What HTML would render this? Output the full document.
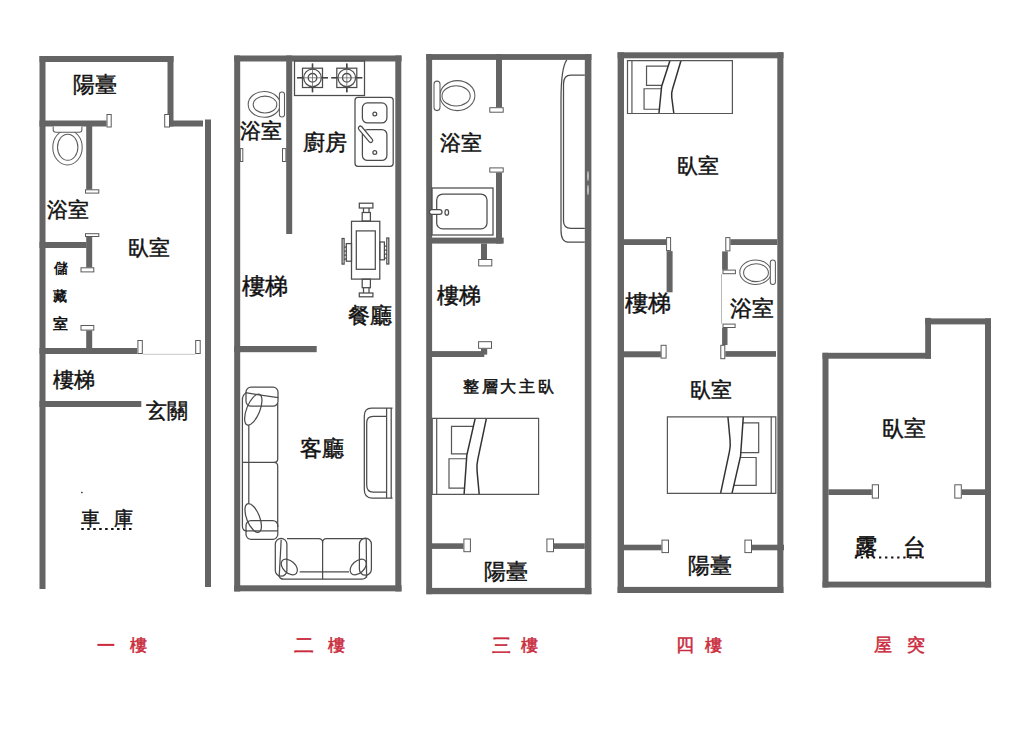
<!DOCTYPE html>
<html><head><meta charset="utf-8">
<style>
html,body{margin:0;padding:0;background:#fff;width:1036px;height:747px;overflow:hidden}
svg{position:absolute;left:0;top:0;display:block}
text{font-family:"Liberation Sans",sans-serif}
.w{fill:#646464}
.d{fill:#fff;stroke:#5a5a5a;stroke-width:1}
.ln{fill:none;stroke:#4c4c4c;stroke-width:1.25}
.tl{fill:none;stroke:#5c5c5c;stroke-width:1.05}
.ln2{fill:none;stroke:#666;stroke-width:0.8}
.ln3{fill:none;stroke:#444;stroke-width:1.6}
.bedg rect,.bedg path{fill:none;stroke:#555;stroke-width:1.2}
.bedg .fold{stroke:#333;stroke-width:1.5;fill:none}
</style></head><body>
<svg width="1036" height="747" viewBox="0 0 1036 747">
<rect class="w" x="39.50" y="56.00" width="134.00" height="6.00"/>
<rect class="w" x="39.50" y="56.00" width="6.00" height="533.00"/>
<rect class="w" x="167.50" y="56.00" width="6.00" height="70.50"/>
<rect class="w" x="167.50" y="120.50" width="35.50" height="6.00"/>
<rect class="w" x="205.00" y="119.50" width="6.00" height="467.50"/>
<rect class="w" x="39.50" y="120.50" width="67.00" height="6.00"/>
<rect class="d" x="107.00" y="114.50" width="4.20" height="12.50"/>
<rect class="d" x="164.70" y="114.50" width="4.80" height="12.50"/>
<rect class="w" x="86.20" y="126.00" width="6.00" height="63.50"/>
<rect class="d" x="85.50" y="189.80" width="13.30" height="3.30"/>
<rect class="w" x="39.50" y="242.00" width="47.00" height="6.00"/>
<rect class="w" x="86.20" y="236.80" width="6.00" height="30.70"/>
<rect class="d" x="85.50" y="233.70" width="13.30" height="2.80"/>
<rect class="d" x="81.00" y="267.80" width="12.80" height="4.10"/>
<rect class="d" x="81.00" y="325.50" width="12.80" height="4.60"/>
<rect class="w" x="86.20" y="330.50" width="6.00" height="18.00"/>
<rect class="w" x="39.50" y="348.00" width="97.50" height="6.00"/>
<rect class="d" x="137.90" y="340.50" width="4.40" height="13.00"/>
<rect class="d" x="195.70" y="340.50" width="4.50" height="13.00"/>
<line x1="142.8" y1="354.3" x2="195.2" y2="354.3" stroke="#c8c8c8" stroke-width="1"/>
<rect class="w" x="39.50" y="401.00" width="101.80" height="6.00"/>
<ellipse class="tl" cx="67.5" cy="147.4" rx="14.7" ry="17.5"/>
<ellipse class="tl" cx="67.7" cy="147.25" rx="10.2" ry="13.05"/>
<path class="tl" style="fill:#fff" d="M53.2,126.5 V129.8 Q53.2,132.3 56,132.3 H79.2 Q81.9,132.3 81.9,129.8 V126.5"/>
<text x="73.07" y="91.73" font-size="22.29" font-weight="400" fill="#111" stroke="#111" stroke-width="0.45">陽臺</text>
<text x="46.90" y="216.76" font-size="21.27" font-weight="400" fill="#111" stroke="#111" stroke-width="0.45">浴室</text>
<text x="127.57" y="255.30" font-size="21.12" font-weight="400" fill="#111" stroke="#111" stroke-width="0.45">臥室</text>
<text x="53.55" y="273.44" font-size="13.64" font-weight="700" fill="#111">儲</text>
<text x="53.40" y="301.20" font-size="13.81" font-weight="700" fill="#111">藏</text>
<text x="52.67" y="328.65" font-size="15.26" font-weight="700" fill="#111">室</text>
<text x="52.78" y="386.70" font-size="21.45" font-weight="400" fill="#111" stroke="#111" stroke-width="0.45">樓梯</text>
<text x="146.02" y="417.84" font-size="20.69" font-weight="400" fill="#111" stroke="#111" stroke-width="0.45">玄關</text>
<text x="81.21" y="524.98" font-size="19.36" font-weight="400" fill="#111" stroke="#111" stroke-width="0.45">車</text>
<text x="113.51" y="525.20" font-size="19.18" font-weight="400" fill="#111" stroke="#111" stroke-width="0.45">庫</text>
<line x1="81.3" y1="529" x2="133" y2="529" stroke="#111" stroke-width="2" stroke-dasharray="2.5 3.46"/>
<rect x="81.2" y="491.8" width="1.4" height="1.4" fill="#222"/>
<rect class="w" x="234.20" y="55.50" width="167.40" height="6.00"/>
<rect class="w" x="234.20" y="55.50" width="6.00" height="536.00"/>
<rect class="w" x="395.30" y="55.50" width="6.00" height="536.00"/>
<rect class="w" x="234.20" y="585.30" width="167.40" height="6.00"/>
<rect class="w" x="286.20" y="55.50" width="6.00" height="178.50"/>
<rect class="d" x="240.30" y="148.60" width="2.50" height="12.90"/>
<rect class="d" x="282.50" y="148.60" width="3.40" height="12.90"/>
<rect class="w" x="234.20" y="346.00" width="82.50" height="6.20"/>
<ellipse class="tl" cx="264.2" cy="104.4" rx="16" ry="12.9"/>
<ellipse class="tl" cx="265" cy="104.55" rx="11.85" ry="8.45"/>
<rect class="tl" style="fill:#fff" x="279.4" y="92" width="5.1" height="24.9" rx="2.5"/>
<rect class="ln" x="294.5" y="61" width="70" height="34.5"/>
<rect class="ln" x="302.5" y="68.2" width="20" height="19.3"/>
<circle class="ln" cx="312.5" cy="77.8" r="8.8"/>
<circle class="ln" cx="312.5" cy="77.8" r="4.3" style="stroke-width:1.35"/>
<path class="ln2" d="M297.0,77.8 H328.0 M312.5,63.5 V92.3"/>
<path class="ln3" d="M297.0,77.8 H303.5 M321.5,77.8 H328.0 M312.5,63.5 V68.5 M312.5,87 V92.3"/>
<rect class="ln" x="336.8" y="68.2" width="20" height="19.3"/>
<circle class="ln" cx="346.8" cy="77.8" r="8.8"/>
<circle class="ln" cx="346.8" cy="77.8" r="4.3" style="stroke-width:1.35"/>
<path class="ln2" d="M331.3,77.8 H362.3 M346.8,63.5 V92.3"/>
<path class="ln3" d="M331.3,77.8 H337.8 M355.8,77.8 H362.3 M346.8,63.5 V68.5 M346.8,87 V92.3"/>
<rect class="ln" x="355" y="97.3" width="38.2" height="69" rx="3"/>
<rect class="ln" x="362.4" y="102.9" width="24.5" height="20" rx="5"/>
<rect class="ln" x="362.4" y="129.6" width="24.5" height="30.8" rx="5"/>
<circle class="ln" cx="374.8" cy="113.9" r="1.9"/>
<circle class="ln" cx="374.8" cy="152.4" r="1.9"/>
<path class="ln" style="fill:#fff" d="M358.8,129.3 A2,2 0 0 1 361.6,126.5 L372.3,139.3 A2,2 0 0 1 369.5,142.1 Z"/>
<rect class="ln" x="351.5" y="221.3" width="28.3" height="57.8"/>
<rect class="ln" x="356.3" y="230.9" width="19" height="38.4"/>
<rect class="ln" x="359.3" y="203.2" width="13.6" height="4.8" fill="#fff"/>
<rect class="ln" x="362.2" y="212.5" width="8.2" height="8.5"/>
<path class="ln" d="M363.5,208 V212.5 M369,208 V212.5"/>
<rect class="ln" x="362.2" y="279.2" width="8.2" height="8.5"/>
<rect class="ln" x="359.3" y="293" width="13.6" height="3.8" fill="#fff"/>
<path class="ln" d="M363.5,287.7 V293 M369,287.7 V293"/>
<rect class="ln" x="346.3" y="243.6" width="5.2" height="17.6"/>
<rect class="ln" x="342.1" y="238.5" width="2" height="25.6"/>
<path class="ln" d="M344.1,247 H346.3 M344.1,251 H346.3 M344.1,255 H346.3 M344.1,259 H346.3"/>
<rect class="ln" x="379.8" y="242" width="4.6" height="17.8"/>
<rect class="ln" x="386.8" y="238" width="2" height="26"/>
<path class="ln" d="M384.4,246 H386.8 M384.4,250 H386.8 M384.4,254 H386.8 M384.4,258 H386.8"/>
<path class="ln" d="M392.5,408 H371.5 Q364.3,408 364.3,416 V489.5 Q364.3,498 372,498 H392.5"/>
<path class="ln" d="M386.6,416.3 H373 Q366.7,416.3 366.7,423 V485 Q366.7,492 373,492 H386.6"/>
<path class="ln" d="M386.6,408 V498 M391.2,408 V498"/>
<path class="ln" d="M277.7,403 V459 Q277.7,462.2 274,462.4 H242.5 M274,462.4 Q277.7,462.6 277.7,466 V527"/>
<path class="ln" d="M246,393 Q242.4,395 242.4,400 V526 Q242.4,531 247,531"/>
<path class="ln" d="M248.8,425 V503.5"/>
<rect class="ln" x="246" y="387.2" width="32" height="19" rx="5"/>
<path class="ln" d="M245.4,392.7 L278.2,397.7"/>
<ellipse class="ln" cx="253.3" cy="409.6" rx="6.6" ry="16.4" transform="rotate(22 253.3 409.6)"/>
<rect class="ln" x="246" y="520.5" width="31.8" height="18.8" rx="5"/>
<path class="ln" d="M246,530.9 H277.8"/>
<ellipse class="ln" cx="253.2" cy="518" rx="6.4" ry="15.3" transform="rotate(-22 253.2 518)"/>
<path class="ln" d="M286.9,538.7 H318.5 Q322.5,538.8 322.6,542.5 Q322.7,538.8 326.5,538.7 H365.8"/>
<path class="ln" d="M279,576 Q280,579.2 284,579.2 H362 Q366.6,579 367,574"/>
<path class="ln" d="M299.7,571.8 H349"/>
<path class="ln" d="M322.6,542 V579.2"/>
<rect class="ln" x="275.3" y="538.4" width="11.6" height="37.8" rx="5.8"/>
<path class="ln" d="M281.2,539.6 L279.2,576.2"/>
<ellipse class="ln" cx="289.3" cy="567" rx="9.5" ry="6" transform="rotate(42 289.3 567)"/>
<rect class="ln" x="359.4" y="538.2" width="12" height="37" rx="6"/>
<path class="ln" d="M366.2,538.8 L366.6,577.8"/>
<ellipse class="ln" cx="358.2" cy="567" rx="9.5" ry="6" transform="rotate(-42 358.2 567)"/>
<text x="240.00" y="138.49" font-size="21.47" font-weight="400" fill="#111" stroke="#111" stroke-width="0.45">浴室</text>
<text x="302.58" y="150.25" font-size="21.68" font-weight="400" fill="#111" stroke="#111" stroke-width="0.45">廚房</text>
<text x="241.55" y="294.45" font-size="22.61" font-weight="400" fill="#111" stroke="#111" stroke-width="0.45">樓梯</text>
<text x="347.79" y="322.60" font-size="21.81" font-weight="400" fill="#111" stroke="#111" stroke-width="0.45">餐廳</text>
<text x="299.75" y="456.31" font-size="21.54" font-weight="400" fill="#111" stroke="#111" stroke-width="0.45">客廳</text>
<rect class="w" x="426.20" y="54.10" width="165.20" height="5.80"/>
<rect class="w" x="426.20" y="54.10" width="5.90" height="540.10"/>
<rect class="w" x="584.80" y="54.10" width="6.60" height="540.10"/>
<rect class="w" x="426.70" y="587.90" width="164.70" height="6.30"/>
<rect class="w" x="496.00" y="54.10" width="6.00" height="53.20"/>
<rect class="d" x="489.80" y="107.70" width="13.40" height="4.50"/>
<rect class="d" x="489.80" y="167.90" width="13.40" height="4.20"/>
<rect class="w" x="496.00" y="172.50" width="6.00" height="71.10"/>
<rect class="w" x="432.00" y="237.60" width="71.70" height="6.00"/>
<rect class="w" x="481.00" y="243.60" width="6.00" height="15.60"/>
<rect class="d" x="478.70" y="259.50" width="13.10" height="6.40"/>
<rect class="w" x="432.00" y="351.10" width="52.30" height="5.90"/>
<rect class="w" x="481.00" y="348.70" width="6.20" height="5.90"/>
<rect class="d" x="478.60" y="341.70" width="12.90" height="6.60"/>
<rect class="w" x="432.00" y="543.30" width="31.40" height="5.60"/>
<rect class="d" x="463.90" y="539.00" width="6.50" height="12.70"/>
<rect class="d" x="546.90" y="539.00" width="6.60" height="12.70"/>
<rect class="w" x="554.00" y="543.30" width="30.80" height="5.60"/>
<ellipse class="tl" cx="457.4" cy="95.6" rx="17.5" ry="15"/>
<ellipse class="tl" cx="456.1" cy="95.9" rx="14.1" ry="10.1"/>
<rect class="tl" style="fill:#fff" x="434" y="81.1" width="6" height="29.5" rx="3"/>
<rect class="ln" x="432" y="188" width="61" height="47" />
<rect class="ln" x="436.7" y="194" width="50.3" height="34.9" rx="6"/>
<rect class="ln" style="fill:#fff" x="429.4" y="209.6" width="12.6" height="4.8" rx="2.4"/>
<ellipse class="ln" cx="446.8" cy="212.4" rx="1.8" ry="2.8"/>
<path class="ln" d="M566.8,59.9 Q561,68 561,100 V230 Q561,242 568,242 H584.8"/>
<path class="ln" d="M584.8,75.2 H571 Q563.5,75.2 563.5,84 V221 Q563.5,228.3 571,228.3 H584.8"/>
<ellipse cx="588" cy="176" rx="1" ry="5" fill="#bbb"/>
<ellipse cx="588" cy="190" rx="1" ry="5" fill="#bbb"/>
<text x="440.03" y="150.10" font-size="21.09" font-weight="400" fill="#111" stroke="#111" stroke-width="0.45">浴室</text>
<text x="437.09" y="303.45" font-size="21.90" font-weight="400" fill="#111" stroke="#111" stroke-width="0.45">樓梯</text>
<text x="462.8" y="392" font-size="16.3" letter-spacing="2.8" fill="#111" stroke="#111" stroke-width="0.55">整層大主臥</text>
<text x="484.26" y="578.98" font-size="22.15" font-weight="400" fill="#111" stroke="#111" stroke-width="0.45">陽臺</text>
<g transform="translate(432.2,418.4) scale(1.0000,0.9987)" class="bedg"><path d="M4.5,0 V76" vector-effect="non-scaling-stroke"/><rect x="19.3" y="7.9" width="22" height="27.7" vector-effect="non-scaling-stroke"/><rect x="16.8" y="40.4" width="19" height="29.5" vector-effect="non-scaling-stroke"/><path d="M43,0 L34.6,37 L31.9,76 H106.4 V0 Z" style="fill:#fff;stroke:none"/><path class="fold" d="M43,0 L34.6,37 L31.9,76" vector-effect="non-scaling-stroke"/><path class="fold" d="M54.2,0 L45.6,41 Q44.2,47 44.9,53 L47,76" vector-effect="non-scaling-stroke"/><rect x="0" y="0" width="106.4" height="76" vector-effect="non-scaling-stroke"/></g>
<rect class="w" x="617.60" y="52.30" width="165.90" height="6.00"/>
<rect class="w" x="617.60" y="52.30" width="6.40" height="540.70"/>
<rect class="w" x="777.30" y="52.30" width="6.10" height="540.70"/>
<rect class="w" x="617.60" y="586.90" width="165.80" height="6.10"/>
<rect class="w" x="624.00" y="239.20" width="42.00" height="5.80"/>
<rect class="d" x="666.60" y="237.60" width="4.00" height="13.00"/>
<rect class="w" x="666.60" y="251.10" width="6.00" height="41.20"/>
<rect class="w" x="730.40" y="239.20" width="46.90" height="5.80"/>
<rect class="d" x="725.80" y="237.60" width="4.10" height="13.30"/>
<rect class="w" x="722.10" y="251.40" width="5.70" height="18.40"/>
<rect class="d" x="723.00" y="270.10" width="12.40" height="3.60"/>
<line x1="721.5" y1="274.2" x2="721.5" y2="323.8" stroke="#b8b8b8" stroke-width="1"/>
<rect class="d" x="723.00" y="324.10" width="12.10" height="3.40"/>
<rect class="w" x="722.10" y="328.00" width="5.40" height="17.00"/>
<rect class="d" x="720.80" y="345.30" width="4.00" height="13.40"/>
<rect class="w" x="725.30" y="351.10" width="50.70" height="5.70"/>
<rect class="w" x="624.00" y="351.30" width="36.80" height="6.00"/>
<rect class="d" x="661.10" y="345.30" width="5.00" height="12.80"/>
<rect class="w" x="624.00" y="544.70" width="37.50" height="5.60"/>
<rect class="d" x="662.00" y="540.10" width="6.50" height="12.50"/>
<rect class="d" x="744.90" y="540.10" width="6.60" height="12.50"/>
<rect class="w" x="752.00" y="544.70" width="32.00" height="5.60"/>
<ellipse class="tl" cx="755.5" cy="272.2" rx="15.7" ry="12.2"/>
<ellipse class="tl" cx="756" cy="272.7" rx="12.4" ry="8.9"/>
<rect class="tl" style="fill:#fff" x="770.3" y="260" width="5.1" height="24.4" rx="2.5"/>
<g transform="translate(627.5,60.7) scale(0.9859,0.6947)" class="bedg"><path d="M4.5,0 V76" vector-effect="non-scaling-stroke"/><rect x="19.3" y="7.9" width="22" height="27.7" vector-effect="non-scaling-stroke"/><rect x="16.8" y="40.4" width="19" height="29.5" vector-effect="non-scaling-stroke"/><path d="M43,0 L34.6,37 L31.9,76 H106.4 V0 Z" style="fill:#fff;stroke:none"/><path class="fold" d="M43,0 L34.6,37 L31.9,76" vector-effect="non-scaling-stroke"/><path class="fold" d="M54.2,0 L45.6,41 Q44.2,47 44.9,53 L47,76" vector-effect="non-scaling-stroke"/><rect x="0" y="0" width="106.4" height="76" vector-effect="non-scaling-stroke"/></g>
<g transform="translate(775.8,493.4) scale(-1.0188,-1.0079)" class="bedg"><path d="M4.5,0 V76" vector-effect="non-scaling-stroke"/><rect x="19.3" y="7.9" width="22" height="27.7" vector-effect="non-scaling-stroke"/><rect x="16.8" y="40.4" width="19" height="29.5" vector-effect="non-scaling-stroke"/><path d="M43,0 L34.6,37 L31.9,76 H106.4 V0 Z" style="fill:#fff;stroke:none"/><path class="fold" d="M43,0 L34.6,37 L31.9,76" vector-effect="non-scaling-stroke"/><path class="fold" d="M54.2,0 L45.6,41 Q44.2,47 44.9,53 L47,76" vector-effect="non-scaling-stroke"/><rect x="0" y="0" width="106.4" height="76" vector-effect="non-scaling-stroke"/></g>
<text x="677.40" y="172.79" font-size="20.94" font-weight="400" fill="#111" stroke="#111" stroke-width="0.45">臥室</text>
<text x="624.65" y="310.98" font-size="23.26" font-weight="400" fill="#111" stroke="#111" stroke-width="0.45">樓梯</text>
<text x="730.09" y="315.75" font-size="21.78" font-weight="400" fill="#111" stroke="#111" stroke-width="0.45">浴室</text>
<text x="689.60" y="397.34" font-size="21.39" font-weight="400" fill="#111" stroke="#111" stroke-width="0.45">臥室</text>
<text x="687.61" y="573.25" font-size="21.90" font-weight="400" fill="#111" stroke="#111" stroke-width="0.45">陽臺</text>
<rect class="w" x="822.50" y="352.80" width="108.50" height="5.90"/>
<rect class="w" x="822.50" y="352.80" width="6.00" height="234.70"/>
<rect class="w" x="925.20" y="317.90" width="5.80" height="40.80"/>
<rect class="w" x="925.20" y="318.40" width="65.80" height="6.00"/>
<rect class="w" x="985.00" y="318.40" width="6.00" height="269.10"/>
<rect class="w" x="822.50" y="581.60" width="168.70" height="5.90"/>
<rect class="w" x="828.40" y="489.30" width="43.40" height="5.70"/>
<rect class="d" x="872.30" y="484.80" width="6.20" height="13.30"/>
<rect class="d" x="954.80" y="484.80" width="6.50" height="13.30"/>
<rect class="w" x="961.80" y="489.30" width="23.70" height="5.70"/>
<text x="882.27" y="436.33" font-size="21.91" font-weight="400" fill="#111" stroke="#111" stroke-width="0.45">臥室</text>
<text x="855.04" y="553.74" font-size="21.77" font-weight="400" fill="#111" stroke="#111" stroke-width="0.75">露</text>
<text x="902.68" y="554.72" font-size="23.20" font-weight="400" fill="#111" stroke="#111" stroke-width="0.45">台</text>
<line x1="854.7" y1="557.5" x2="924" y2="557.5" stroke="#111" stroke-width="2" stroke-dasharray="2.3 3.77"/>
<text x="130.39" y="651.31" font-size="17.04" font-weight="400" fill="#c92a3c" stroke="#c92a3c" stroke-width="0.5">樓</text>
<rect x="97.4" y="643.9" width="16.9" height="2" fill="#c92a3c"/>
<text x="294.36" y="651.81" font-size="19.88" font-weight="400" fill="#c92a3c" stroke="#c92a3c" stroke-width="0.5">二</text>
<text x="327.99" y="651.03" font-size="16.93" font-weight="400" fill="#c92a3c" stroke="#c92a3c" stroke-width="0.5">樓</text>
<text x="492.29" y="651.59" font-size="18.67" font-weight="400" fill="#c92a3c" stroke="#c92a3c" stroke-width="0.5">三</text>
<text x="520.73" y="651.04" font-size="17.25" font-weight="400" fill="#c92a3c" stroke="#c92a3c" stroke-width="0.5">樓</text>
<text x="676.15" y="650.68" font-size="18.03" font-weight="400" fill="#c92a3c" stroke="#c92a3c" stroke-width="0.5">四</text>
<text x="704.73" y="651.04" font-size="17.25" font-weight="400" fill="#c92a3c" stroke="#c92a3c" stroke-width="0.5">樓</text>
<text x="874.22" y="651.46" font-size="17.74" font-weight="400" fill="#c92a3c" stroke="#c92a3c" stroke-width="0.5">屋</text>
<text x="906.63" y="651.39" font-size="17.54" font-weight="400" fill="#c92a3c" stroke="#c92a3c" stroke-width="0.5">突</text>
</svg>
</body></html>
